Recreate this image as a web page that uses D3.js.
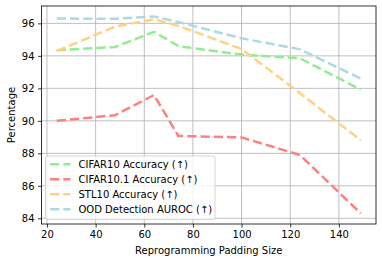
<!DOCTYPE html>
<html>
<head>
<meta charset="utf-8">
<script src="https://cdn.jsdelivr.net/npm/d3@7"></script>
<style>
  body { margin: 0; background: #fff; }
  svg { display: block; font-family: "DejaVu Sans", sans-serif; }
</style>
</head>
<body>
<div class="container"></div>
<script>
// padding sizes on the x axis
var paddingSizes = [24, 48, 64, 74, 100, 124, 149];

var cifar10 = [94.35, 94.55, 95.48, 94.6, 94.08, 93.85, 91.92];
var cifar101 = [90.0, 90.35, 91.59, 89.07, 88.98, 87.9, 84.3];
var stl10 = [94.3, 95.8, 96.25, 95.85, 94.42, 91.7, 88.8];
var oodAuroc = [96.3, 96.28, 96.43, 96.08, 95.08, 94.4, 92.6];

var seriesNames = ['CIFAR10 Accuracy (\u2191)', 'CIFAR10.1 Accuracy (\u2191)',
                   'STL10 Accuracy (\u2191)', 'OOD Detection AUROC (\u2191)'];
var seriesColors = ['#90ee90', '#ff8080', '#ffd280', '#add8e6'];

var xTicks = [20, 40, 60, 80, 100, 120, 140];
var yTicks = [84, 86, 88, 90, 92, 94, 96];

var width = 382, height = 262;
var margin = {left: 41.5, right: 6, top: 6, bottom: 38};

var svg = d3.select('.container').append('svg')
    .attr('width', width).attr('height', height);

var x = d3.scaleLinear().domain([17.75, 155.25])
    .range([margin.left, width - margin.right]);
var y = d3.scaleLinear().domain([83.65, 97.07])
    .range([height - margin.bottom, margin.top]);

// grid
svg.append('g').selectAll('line').data(xTicks).enter().append('line')
    .attr('x1', function (d) { return x(d); }).attr('x2', function (d) { return x(d); })
    .attr('y1', margin.top).attr('y2', height - margin.bottom)
    .attr('stroke', '#b0b0b0').attr('stroke-width', 0.8);
svg.append('g').selectAll('line').data(yTicks).enter().append('line')
    .attr('y1', function (d) { return y(d); }).attr('y2', function (d) { return y(d); })
    .attr('x1', margin.left).attr('x2', width - margin.right)
    .attr('stroke', '#b0b0b0').attr('stroke-width', 0.8);

// lines
var allSeries = [cifar10, cifar101, stl10, oodAuroc];
var line = d3.line()
    .x(function (d, i) { return x(paddingSizes[i]); })
    .y(function (d) { return y(d); });

svg.append('g').selectAll('path').data(allSeries).enter().append('path')
    .attr('d', line)
    .attr('fill', 'none')
    .attr('stroke', function (d, i) { return seriesColors[i]; })
    .attr('stroke-width', 2.5)
    .attr('stroke-dasharray', '9.25,4');

// axes
var xAxis = svg.append('g')
    .attr('transform', 'translate(0,' + (height - margin.bottom) + ')')
    .call(d3.axisBottom(x).tickValues(xTicks).tickSize(3.5).tickPadding(3.5));
var yAxis = svg.append('g')
    .attr('transform', 'translate(' + margin.left + ',0)')
    .call(d3.axisLeft(y).tickValues(yTicks).tickSize(3.5).tickPadding(3.5));

[xAxis, yAxis].forEach(function (g) {
    g.select('.domain').remove();
    g.selectAll('.tick line').attr('stroke', '#000').attr('stroke-width', 0.8);
    g.selectAll('.tick text').attr('font-size', 10).attr('fill', '#000')
        .attr('font-family', '"DejaVu Sans", sans-serif');
});

// frame
svg.append('rect')
    .attr('x', margin.left).attr('y', margin.top)
    .attr('width', width - margin.left - margin.right)
    .attr('height', height - margin.top - margin.bottom)
    .attr('fill', 'none').attr('stroke', '#000').attr('stroke-width', 0.8);

// axis labels
svg.append('text')
    .attr('x', (margin.left + width - margin.right) / 2).attr('y', 254)
    .attr('text-anchor', 'middle').attr('font-size', 10)
    .text('Reprogramming Padding Size');
svg.append('text')
    .attr('transform', 'translate(15,' + ((margin.top + height - margin.bottom) / 2) + ') rotate(-90)')
    .attr('text-anchor', 'middle').attr('font-size', 10)
    .text('Percentage');

// legend
var legend = svg.append('g').attr('transform', 'translate(45.5,156)');
legend.append('rect')
    .attr('width', 169.5).attr('height', 63.5).attr('rx', 2)
    .attr('fill', '#fff').attr('fill-opacity', 0.8)
    .attr('stroke', '#cccccc').attr('stroke-width', 0.8);

var items = legend.selectAll('.item').data(seriesNames).enter().append('g')
    .attr('transform', function (d, i) { return 'translate(0,' + (8.3 + i * 15) + ')'; });
items.append('line')
    .attr('x1', 4.5).attr('x2', 25)
    .attr('stroke', function (d, i) { return seriesColors[i]; })
    .attr('stroke-width', 2.5).attr('stroke-dasharray', '9.25,4');
items.append('text')
    .attr('x', 33).attr('dy', '0.35em').attr('font-size', 10)
    .text(function (d) { return d; });
</script>
</body>
</html>
